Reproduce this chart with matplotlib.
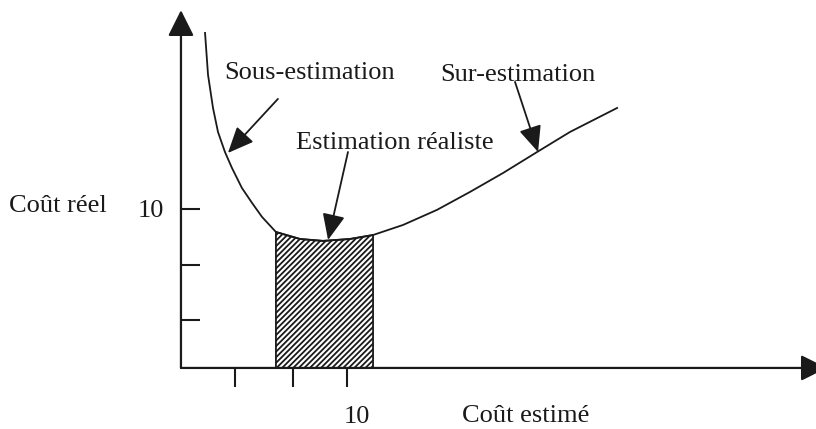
import numpy as np
import matplotlib
matplotlib.use("Agg")
import matplotlib.pyplot as plt

plt.rcParams['font.family'] = ['Liberation Serif', 'DejaVu Serif']
plt.rcParams['hatch.linewidth'] = 1.3

cout_estime = [1.45, 1.63, 1.93, 2.23, 2.65, 3.07, 3.67, 4.28, 4.88, 5.72,
               7.17, 8.55, 10.18, 11.57, 13.37, 15.42, 17.41, 19.40, 21.45,
               23.43, 26.27]
cout_reel = [21.07, 18.43, 16.35, 14.84, 13.58, 12.58, 11.32, 10.38, 9.50,
             8.55, 8.11, 7.99, 8.11, 8.36, 8.99, 9.94, 11.07, 12.26, 13.58,
             14.84, 16.35]

# hatched "realistic" zone = points 9..13 of the curve
zone = slice(9, 14)

xticks = [3.25, 6.75, 10]
yticks = [3.0, 6.5, 10]
ytick_labels = ['', '', '10']

fig = plt.figure(figsize=(8.16, 4.29), dpi=100)
ax = fig.add_axes([0, 0, 1, 1])
ax.set_xlim(-10.9, 38.25)
ax.set_ylim(-3.84, 23.14)

ink = '#1a1a1a'

ax.plot(cout_estime, cout_reel, color=ink, lw=1.3)
ax.fill_between(cout_estime[zone], 0, cout_reel[zone], facecolor='white',
                edgecolor=ink, hatch='//////', lw=1.3)

# axes with arrow heads
for sp in ax.spines.values():
    sp.set_color('none')
ax.spines['left'].set_position(('data', 0))
ax.spines['bottom'].set_position(('data', 0))
axis_arrow = dict(arrowstyle='-|>,head_length=0.8,head_width=0.4',
                  mutation_scale=20, lw=1.6, color=ink, shrinkA=0, shrinkB=0)
ax.annotate('', xy=(0, 22.5), xytext=(0, 0), arrowprops=axis_arrow,
            annotation_clip=False)
ax.annotate('', xy=(38.9, 0), xytext=(0, 0), arrowprops=axis_arrow,
            annotation_clip=False)

ax.set_xticks(xticks)
ax.set_xticklabels([])
ax.set_yticks(yticks)
ax.set_yticklabels(ytick_labels)
ax.tick_params(axis='x', direction='out', length=13.5, width=1.5, color=ink)
ax.tick_params(axis='y', direction='in', length=13.5, width=1.5, color=ink,
               pad=12, labelsize=19, labelcolor=ink)

fs = 19
ax.annotate('10', xy=(10, 0), xytext=(7, -35), textcoords='offset points',
            ha='center', va='center', fontsize=fs, color=ink)
ax.text(20.78, -3.0, 'Coût estimé', ha='center', va='center', fontsize=fs, color=ink)
ax.text(-7.41, 10.2, 'Coût réel', ha='center', va='center', fontsize=fs, color=ink)

note_arrow = dict(arrowstyle='-|>,head_length=0.8,head_width=0.35',
                  mutation_scale=20, lw=1.3, color=ink, shrinkA=0, shrinkB=0)
ax.text(7.77, 18.55, 'Sous-estimation', ha='center', va='center', fontsize=fs, color=ink)
ax.annotate('', xy=(2.83, 13.52), xytext=(5.84, 16.92), arrowprops=note_arrow)
ax.text(20.3, 18.43, 'Sur-estimation', ha='center', va='center', fontsize=fs, color=ink)
ax.annotate('', xy=(21.51, 13.58), xytext=(20.12, 17.99), arrowprops=note_arrow)
ax.text(12.89, 14.15, 'Estimation réaliste', ha='center', va='center', fontsize=fs, color=ink)
ax.annotate('', xy=(8.86, 8.05), xytext=(10.06, 13.58), arrowprops=note_arrow)

plt.savefig("out.png", dpi=100)
